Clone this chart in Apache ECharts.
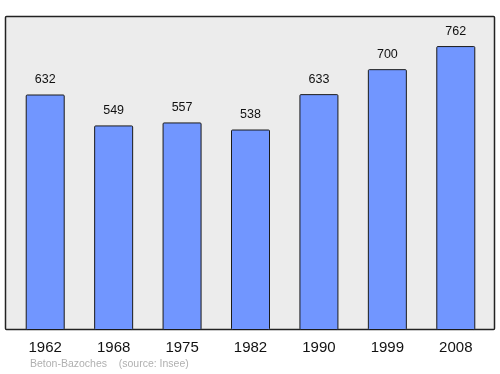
<!DOCTYPE html>
<html><head><meta charset="utf-8">
<script src="https://cdn.jsdelivr.net/npm/echarts@6/dist/echarts.min.js"></script>
<style>html,body{margin:0;padding:0;background:#fff}#c{width:500px;height:374px}</style>
</head><body><div id="c"></div>
<script>
const years = ['1962','1968','1975','1982','1990','1999','2008'];
const population = [632, 549, 557, 538, 633, 700, 762];
const sourceText = 'Beton-Bazoches    (source: Insee)';

const chart = echarts.init(document.getElementById('c'), null, {renderer:'canvas'});
chart.setOption({
  animation:false,
  backgroundColor:'#ffffff',
  graphic:[
    {type:'rect', z:-10, shape:{x:5.5, y:16.5, width:489, height:313, r:1},
     style:{fill:'#ececec', stroke:'#222', lineWidth:1.5}},
    {type:'text', left:30, top:359, style:{text:sourceText, fill:'#b0b0b0', font:'10.5px "Liberation Sans", Arial, sans-serif'}}
  ],
  grid:{left:11, right:10, top:17, bottom:44, containLabel:false},
  xAxis:{type:'category', data:years,
    axisLine:{show:false}, axisTick:{show:false},
    axisLabel:{color:'#111', fontSize:15, fontFamily:'"Liberation Sans", Arial, sans-serif', margin:10}},
  yAxis:{type:'value', min:0, max:840, show:false, splitLine:{show:false}},
  series:[{type:'bar', data:population, barWidth:39,
    itemStyle:{color:'#7196ff', borderColor:'#1a1a1a', borderWidth:1, borderRadius:1},
    label:{show:true, position:'top', distance:8, color:'#111', fontSize:12.5,
      fontFamily:'"Liberation Sans", Arial, sans-serif'}}]
});
</script></body></html>
